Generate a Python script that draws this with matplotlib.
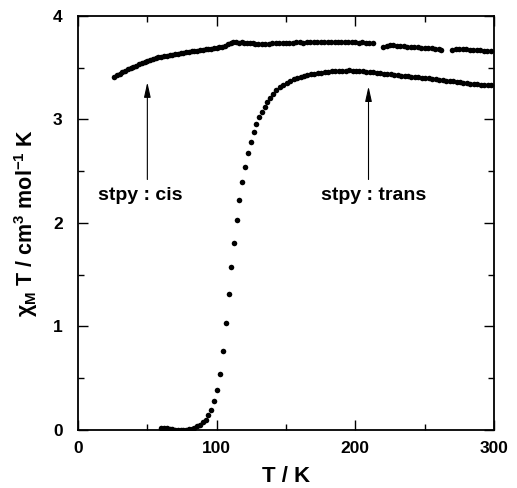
import matplotlib
matplotlib.use("Agg")
import matplotlib.pyplot as plt
from matplotlib.ticker import MultipleLocator

plt.rcParams['font.family'] = ['Liberation Sans', 'DejaVu Sans']
plt.rcParams['font.weight'] = 'bold'
plt.rcParams['mathtext.fontset'] = 'custom'
plt.rcParams['mathtext.rm'] = 'Liberation Sans:bold'
plt.rcParams['mathtext.it'] = 'Liberation Sans:bold'
plt.rcParams['mathtext.bf'] = 'Liberation Sans:bold'

# stpy : cis  (upper curve)
cis_T = [26, 28, 30, 32, 34, 36, 38, 40, 42, 44, 46, 48, 50, 52, 54, 56, 58, 60,
         62, 64, 66, 68, 70, 72, 74, 76, 78, 80, 82, 84, 86, 88, 90, 92, 94, 96,
         98, 100, 102, 104, 106, 108, 110, 112, 114, 116, 118, 120, 122, 124, 126,
         128, 130, 132.5, 135, 137.5, 140, 142.5, 145, 147.5, 150, 152.5, 155,
         157.5, 160, 162.5, 165, 167.5, 170, 172.5, 175, 177.5, 180, 182.5, 185,
         187.5, 190, 192.5, 195, 197.5, 200, 202.5, 205, 207.5, 210, 212.5,
         220, 222.5, 225, 227.5, 230, 232.5, 235, 237.5, 240, 242.5, 245, 247.5,
         250, 252.5, 255, 257.5, 260, 262,
         270, 272.5, 275, 277.5, 280, 282.5, 285, 287.5, 290, 292.5, 295, 297.5]
cis_chiT = [3.41, 3.43, 3.44, 3.455, 3.47, 3.485, 3.50, 3.51, 3.52, 3.535, 3.545,
            3.555, 3.565, 3.575, 3.585, 3.59, 3.60, 3.605, 3.61, 3.615, 3.62, 3.625,
            3.63, 3.635, 3.64, 3.645, 3.65, 3.655, 3.66, 3.66, 3.665, 3.67, 3.675,
            3.68, 3.68, 3.685, 3.69, 3.695, 3.70, 3.705, 3.715, 3.73, 3.74, 3.745,
            3.745, 3.74, 3.745, 3.74, 3.74, 3.735, 3.735, 3.73, 3.725, 3.725, 3.73,
            3.73, 3.735, 3.735, 3.74, 3.74, 3.74, 3.735, 3.74, 3.745, 3.745, 3.74,
            3.745, 3.745, 3.745, 3.745, 3.75, 3.745, 3.75, 3.745, 3.75, 3.745,
            3.745, 3.75, 3.745, 3.745, 3.745, 3.74, 3.745, 3.74, 3.74, 3.735,
            3.70, 3.715, 3.72, 3.72, 3.715, 3.71, 3.71, 3.705, 3.705, 3.70, 3.70,
            3.695, 3.695, 3.69, 3.69, 3.685, 3.68, 3.675,
            3.675, 3.68, 3.685, 3.68, 3.68, 3.675, 3.675, 3.67, 3.67, 3.665,
            3.665, 3.66]

# stpy : trans  (lower curve with spin transition)
trans_T = [60, 62, 64, 66, 68, 70, 72, 74, 76, 78, 80, 82, 84, 86, 88, 90, 92, 94,
           96, 98.2, 100.3, 102.4, 104.3, 106.5, 108.9, 110.5, 112.7, 114.4, 116.3,
           118.5, 120.6, 122.8, 124.7, 126.9, 128.5, 130.5, 132.5, 134.5, 136.5,
           138.5, 140.5, 143, 145.5, 148, 150.5, 153, 155.5, 158, 160.5, 163,
           165.5, 168, 170.5, 173, 175.5, 178, 180.5, 183, 185.5, 188, 190.5, 193,
           195.5, 198, 200.5, 203, 205.5, 208, 210.5, 213, 215.5, 218, 220.5, 223,
           225.5, 228, 230.5, 233, 235.5, 238, 240.5, 243, 245.5, 248, 250.5, 253,
           255.5, 258, 260.5, 263, 265.5, 268, 270.5, 273, 275.5, 278, 280.5, 283,
           285.5, 288, 290.5, 293, 295.5, 298]
trans_chiT = [0.02, 0.02, 0.015, 0.01, 0.005, 0.0, 0.0, 0.0, 0.0, 0.0, 0.005, 0.01,
              0.02, 0.035, 0.05, 0.075, 0.10, 0.14, 0.19, 0.28, 0.386, 0.54, 0.76,
              1.03, 1.31, 1.57, 1.81, 2.03, 2.22, 2.40, 2.54, 2.68, 2.78, 2.88, 2.96,
              3.02, 3.07, 3.12, 3.17, 3.21, 3.25, 3.285, 3.31, 3.335, 3.355, 3.375,
              3.39, 3.40, 3.41, 3.42, 3.43, 3.435, 3.44, 3.445, 3.45, 3.455, 3.46,
              3.465, 3.465, 3.47, 3.47, 3.47, 3.475, 3.47, 3.47, 3.465, 3.465, 3.46,
              3.455, 3.455, 3.45, 3.445, 3.44, 3.44, 3.435, 3.43, 3.43, 3.425, 3.42,
              3.42, 3.415, 3.41, 3.41, 3.405, 3.40, 3.40, 3.395, 3.39, 3.385, 3.38,
              3.375, 3.37, 3.37, 3.365, 3.36, 3.355, 3.35, 3.345, 3.345, 3.34,
              3.335, 3.335, 3.33, 3.33]

labels = ["stpy : cis", "stpy : trans"]
label_T = [45, 213]
label_y = 2.27
arrow_T = [50, 209.5]
arrow_tail = 2.42
arrow_tip = [3.36, 3.32]

x_ticks = [0, 100, 200, 300]
y_ticks = [0, 1, 2, 3, 4]

fig = plt.figure(figsize=(5.17, 4.88), dpi=100)
ax = fig.add_axes([0.1509, 0.1189, 0.9555 - 0.1509, 0.9672 - 0.1189])

ax.plot(cis_T, cis_chiT, 'o', color='black', markersize=4.0, markeredgewidth=0)
ax.plot(trans_T, trans_chiT, 'o', color='black', markersize=4.0, markeredgewidth=0)

for lab, lt, at, tip in zip(labels, label_T, arrow_T, arrow_tip):
    ax.text(lt, label_y, lab, ha='center', va='center', fontsize=14,
            fontweight='bold')
    ax.annotate('', xy=(at, tip), xytext=(at, arrow_tail),
                arrowprops=dict(arrowstyle='-|>,head_length=0.9,head_width=0.2',
                                color='black', lw=0.8, shrinkA=0, shrinkB=0))

ax.set_xlim(0, 300)
ax.set_ylim(0, 4)
ax.set_xticks(x_ticks)
ax.set_yticks(y_ticks)
ax.xaxis.set_minor_locator(MultipleLocator(50))
ax.yaxis.set_minor_locator(MultipleLocator(0.5))
ax.tick_params(which='both', direction='in', top=True, right=True, width=1.0)
ax.tick_params(which='major', length=7)
ax.tick_params(which='minor', length=4)
ax.tick_params(axis='x', which='major', pad=8, labelsize=12.5)
ax.tick_params(axis='y', which='major', pad=11, labelsize=12.5)
for lab in ax.get_xticklabels() + ax.get_yticklabels():
    lab.set_fontweight('bold')
for s in ax.spines.values():
    s.set_linewidth(1.3)

ax.set_xlabel('T / K', fontsize=16, fontweight='bold', labelpad=7)
ax.set_ylabel(r'$\chi_{\mathrm{M}}$ T / cm$^{3}$ mol$^{-1}$ K', fontsize=15.5,
              fontweight='bold', labelpad=9)

fig.savefig('out.png', dpi=100)
